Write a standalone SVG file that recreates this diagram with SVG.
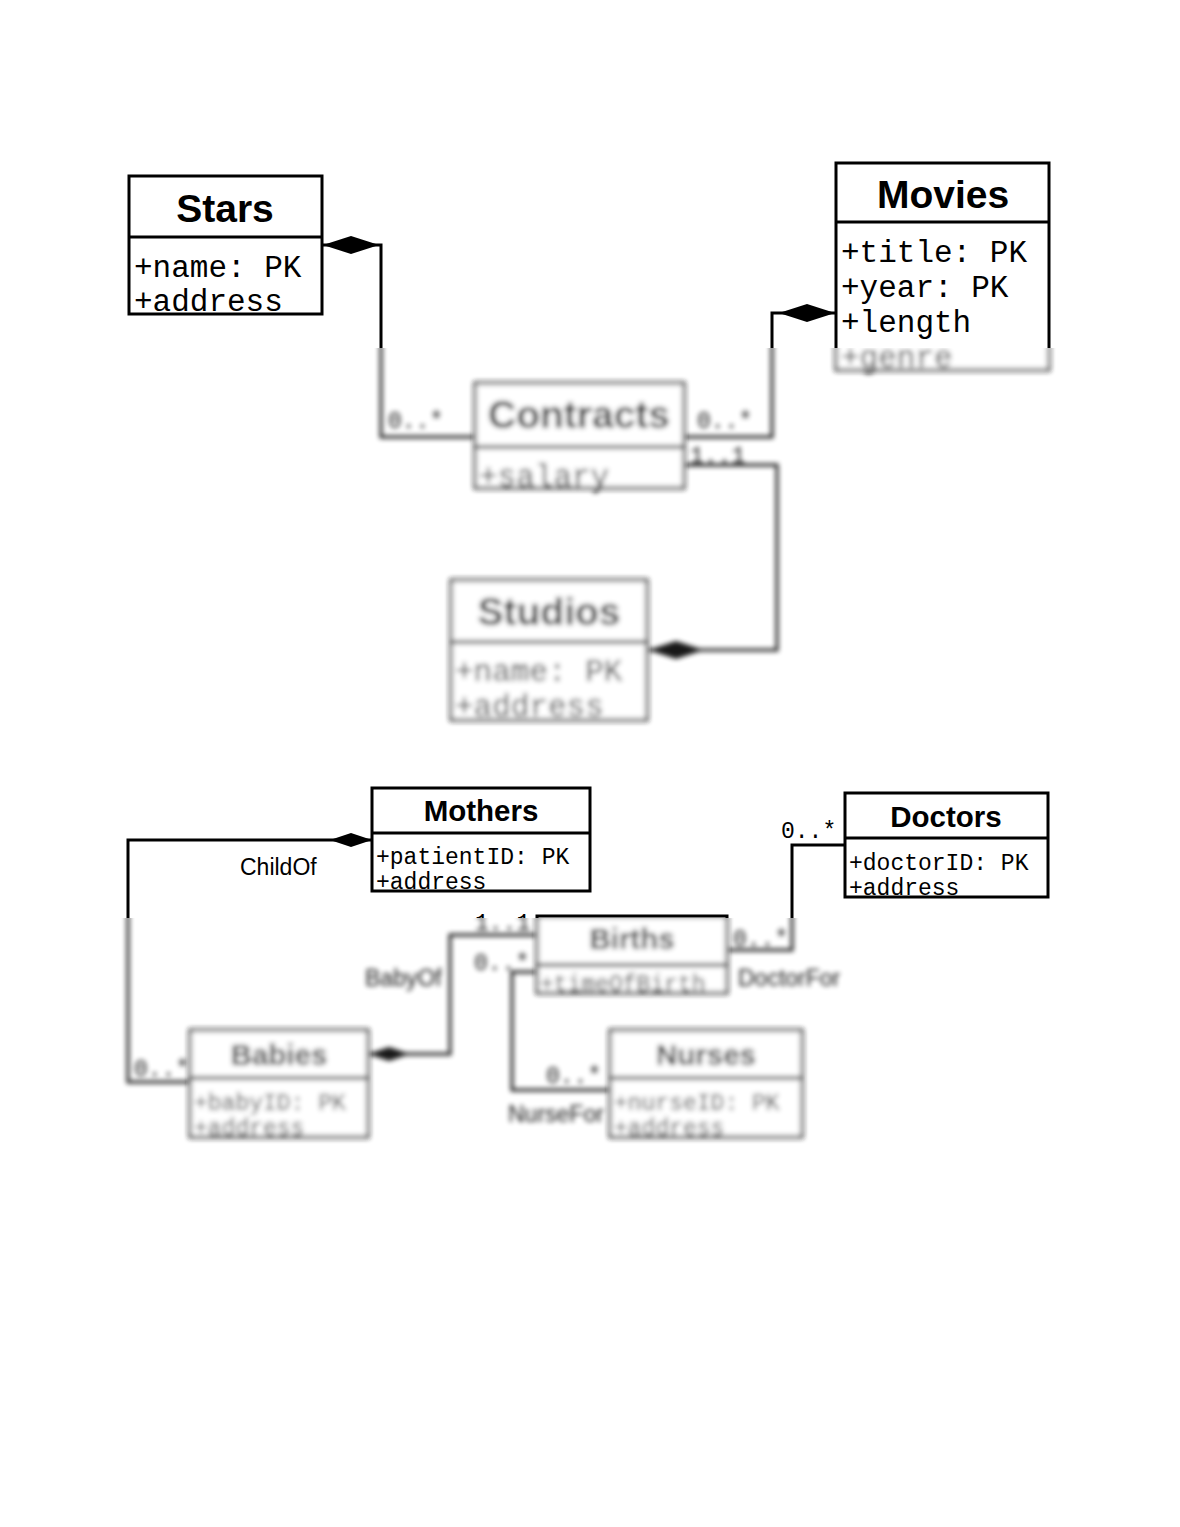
<svg xmlns="http://www.w3.org/2000/svg" xmlns:xlink="http://www.w3.org/1999/xlink" width="1180" height="1527" viewBox="0 0 1180 1527">
<style>
.box{fill:#fff;stroke:#000;stroke-width:3}
.div{stroke:#000;stroke-width:3}
.ttl{font-family:"Liberation Sans",Arial,sans-serif;font-weight:bold;text-anchor:middle;fill:#000}
.big{font-size:39px}
.sm{font-size:29.5px}
.att{font-family:"Liberation Mono","Courier New",monospace;fill:#000}
.a1{font-size:31px}
.a2{font-size:23px}
.lbl{font-family:"Liberation Sans",Arial,sans-serif;font-size:23px;fill:#000}
.mul{font-family:"Liberation Mono","Courier New",monospace;font-size:23px;fill:#000}
.con{fill:none;stroke:#000;stroke-width:3}
</style>
<defs>
<marker id="dBig" markerUnits="userSpaceOnUse" viewBox="0 0 56 18" refX="0" refY="9" markerWidth="56" markerHeight="18" orient="auto"><path d="M0,9 L28,0 L56,9 L28,18 Z" fill="#000"/></marker>
<marker id="dSm" markerUnits="userSpaceOnUse" viewBox="0 0 42 14" refX="0" refY="7" markerWidth="42" markerHeight="14" orient="auto"><path d="M0,7 L21,0 L42,7 L21,14 Z" fill="#000"/></marker>
<clipPath id="sharp"><rect x="0" y="0" width="1180" height="348"/><rect x="0" y="735" width="1180" height="183"/><rect x="0" y="1145" width="1180" height="400"/></clipPath>
<clipPath id="soft"><rect x="0" y="348" width="1180" height="387"/><rect x="0" y="918" width="1180" height="227"/></clipPath>
<filter id="blur" x="-10%" y="-10%" width="120%" height="120%"><feGaussianBlur stdDeviation="2.4"/></filter>
</defs>
<rect width="1180" height="1527" fill="#fff"/>
<g clip-path="url(#sharp)">
<g id="diagram">
<g id="connectors">
<path class="con" d="M323,245 H381 V437 H475" marker-start="url(#dBig)"/>
<path class="con" d="M835,313 H772 V437 H684" marker-start="url(#dBig)"/>
<path class="con" d="M648,650 H777 V465 H684" marker-start="url(#dBig)"/>
<path class="con" d="M372,840 H128 V1082 H190" marker-start="url(#dSm)"/>
<path class="con" d="M845,845 H792 V950 H727"/>
<path class="con" d="M368,1054 H450 V935 H537" marker-start="url(#dSm)"/>
<path class="con" d="M537,972 H512 V1090 H610"/>
<text class="mul" x="388" y="428">0..*</text>
<text class="mul" x="697" y="428">0..*</text>
<text class="mul" x="690" y="463">1..1</text>
<text class="lbl" x="240" y="875">ChildOf</text>
<text class="mul" x="134" y="1076">0..*</text>
<text class="mul" x="781" y="838">0..*</text>
<text class="mul" x="733" y="946">0..*</text>
<text class="mul" x="475" y="930">1..1</text>
<text class="mul" x="474" y="970">0..*</text>
<text class="lbl" x="365" y="986">BabyOf</text>
<text class="mul" x="546" y="1083">0..*</text>
<text class="lbl" x="508" y="1122">NurseFor</text>
<text class="lbl" x="738" y="986">DoctorFor</text>
</g>
<g id="stars">
<rect class="box" x="129" y="176" width="193" height="138"/>
<line class="div" x1="129" y1="237" x2="322" y2="237"/>
<text class="ttl big" x="225" y="222">Stars</text>
<text class="att a1" x="134" y="277">+name: PK</text>
<text class="att a1" x="134" y="311">+address</text>
</g>
<g id="movies">
<rect class="box" x="836" y="163" width="213" height="207"/>
<line class="div" x1="836" y1="222" x2="1049" y2="222"/>
<text class="ttl big" x="943" y="208">Movies</text>
<text class="att a1" x="841" y="262">+title: PK</text>
<text class="att a1" x="841" y="297">+year: PK</text>
<text class="att a1" x="841" y="332">+length</text>
<text class="att a1" x="841" y="367">+genre</text>
</g>
<g id="contracts">
<rect class="box" x="475" y="383" width="209" height="105"/>
<line class="div" x1="475" y1="447" x2="684" y2="447"/>
<text class="ttl big" x="579" y="428">Contracts</text>
<text class="att a1" x="479" y="486">+salary</text>
</g>
<g id="studios">
<rect class="box" x="451" y="580" width="196" height="140"/>
<line class="div" x1="451" y1="642" x2="647" y2="642"/>
<text class="ttl big" x="549" y="625">Studios</text>
<text class="att a1" x="455" y="681">+name: PK</text>
<text class="att a1" x="455" y="716">+address</text>
</g>
<g id="mothers">
<rect class="box" x="372" y="788" width="218" height="103"/>
<line class="div" x1="372" y1="833" x2="590" y2="833"/>
<text class="ttl sm" x="481" y="821">Mothers</text>
<text class="att a2" x="376" y="864">+patientID: PK</text>
<text class="att a2" x="376" y="889">+address</text>
</g>
<g id="doctors">
<rect class="box" x="845" y="793" width="203" height="104"/>
<line class="div" x1="845" y1="838" x2="1048" y2="838"/>
<text class="ttl sm" x="946" y="827">Doctors</text>
<text class="att a2" x="849" y="870">+doctorID: PK</text>
<text class="att a2" x="849" y="895">+address</text>
</g>
<g id="births">
<rect class="box" x="537" y="916" width="190" height="77"/>
<line class="div" x1="537" y1="965" x2="727" y2="965"/>
<text class="ttl sm" x="632" y="949">Births</text>
<text class="att a2" x="540" y="991">+timeOfBirth</text>
</g>
<g id="babies">
<rect class="box" x="190" y="1030" width="178" height="107"/>
<line class="div" x1="190" y1="1078" x2="368" y2="1078"/>
<text class="ttl sm" x="279" y="1065">Babies</text>
<text class="att a2" x="194" y="1110">+babyID: PK</text>
<text class="att a2" x="194" y="1135">+address</text>
</g>
<g id="nurses">
<rect class="box" x="610" y="1030" width="192" height="107"/>
<line class="div" x1="610" y1="1078" x2="802" y2="1078"/>
<text class="ttl sm" x="706" y="1065">Nurses</text>
<text class="att a2" x="614" y="1110">+nurseID: PK</text>
<text class="att a2" x="614" y="1135">+address</text>
</g>
</g>
</g>
<use xlink:href="#diagram" href="#diagram" clip-path="url(#soft)" filter="url(#blur)" opacity="0.9"/>
</svg>
